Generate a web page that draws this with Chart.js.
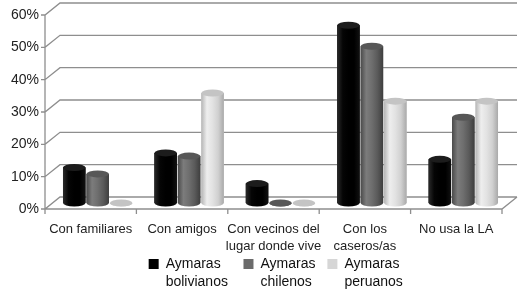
<!DOCTYPE html>
<html>
<head>
<meta charset="utf-8">
<script src="https://cdn.jsdelivr.net/npm/chart.js@4.4.0/dist/chart.umd.min.js"></script>
<style>
  html, body { margin: 0; padding: 0; background: #fff; }
</style>
</head>
<body>
<canvas id="usoChart" width="530" height="293"></canvas>
<script>
const categories = ['Con familiares', 'Con amigos', ['Con vecinos del', 'lugar donde vive'], ['Con los', 'caseros/as'], 'No usa la LA'];
const seriesNames = ['Aymaras bolivianos', 'Aymaras chilenos', 'Aymaras peruanos'];
const bolivianos = [11, 15.5, 6, 55, 13.5];
const chilenos = [9, 14.5, 0, 48.5, 26.5];
const peruanos = [0, 34, 0, 31.5, 31.5];
const yTicks = [0, 10, 20, 30, 40, 50, 60];

const baseColors = ['#000000', '#6b6b6b', '#d6d6d6'];
// cylinder shading, left -> right, and colour of the top ellipse
const shading = [
  { stops: ['#2a2a2a', '#050505', '#000000', '#000000', '#111111'], top: '#1c1c1c' },
  { stops: ['#4a4a4a', '#7c7c7c', '#6e6e6e', '#5a5a5a', '#3e3e3e'], top: '#575757' },
  { stops: ['#b5b5b5', '#eeeeee', '#e2e2e2', '#d0d0d0', '#a9a9a9'], top: '#c4c4c4' },
];

// 3d offsets of the front and back planes relative to the bar plane
const FX = -7, FY = 6, BX = 8, BY = -6;

const frame3d = {
  id: 'frame3d',
  afterLayout(chart) {
    // let the second legend line show and nudge the row to the right
    const lg = chart.legend;
    lg.top += 2;
    lg.bottom = chart.height;
    lg.left += 29;
    lg.right += 29;
  },
  beforeDatasetsDraw(chart) {
    const { ctx, chartArea: a, scales: { x, y } } = chart;
    ctx.save();
    ctx.strokeStyle = '#8e8e8e';
    ctx.lineWidth = 1.3;
    ctx.beginPath();
    yTicks.forEach(v => {
      const py = y.getPixelForValue(v);
      ctx.moveTo(a.left + FX - 4, py + FY);
      ctx.lineTo(a.left + FX, py + FY);
      ctx.lineTo(a.left + BX, py + BY);
      ctx.lineTo(a.right + BX, py + BY);
    });
    ctx.moveTo(a.left + FX, y.getPixelForValue(60) + FY);
    ctx.lineTo(a.left + FX, a.bottom + FY);
    ctx.lineTo(a.right + FX, a.bottom + FY);
    ctx.lineTo(a.right + BX, a.bottom + BY);
    const catW = (a.right - a.left) / categories.length;
    for (let i = 0; i <= categories.length; i++) {
      const px = a.left + FX + catW * i;
      ctx.moveTo(px, a.bottom + FY);
      ctx.lineTo(px, a.bottom + FY + 5);
    }
    ctx.stroke();
    ctx.restore();
  },
  afterDatasetsDraw(chart) {
    const { ctx } = chart;
    ctx.save();
    chart.data.datasets.forEach((ds, di) => {
      const meta = chart.getDatasetMeta(di);
      const sh = shading[di];
      meta.data.forEach(bar => {
        const { x, y, base, width } = bar.getProps(['x', 'y', 'base', 'width'], true);
        const l = x - width / 2, r = x + width / 2, rx = width / 2, ry = 3.5;
        const g = ctx.createLinearGradient(l, 0, r, 0);
        sh.stops.forEach((c, k) => g.addColorStop(k / (sh.stops.length - 1), c));
        ctx.fillStyle = g;
        ctx.beginPath();
        ctx.moveTo(l, y);
        ctx.lineTo(l, base);
        ctx.ellipse(x, base, rx, ry, 0, Math.PI, 0, true);
        ctx.lineTo(r, y);
        ctx.closePath();
        ctx.fill();
        ctx.beginPath();
        ctx.ellipse(x, y, rx, ry, 0, 0, Math.PI * 2);
        ctx.fillStyle = sh.top;
        ctx.fill();
      });
    });
    ctx.restore();
  }
};

// two-line legend text; width is measured from the longer line plus a gap
function legendText(label) {
  const lines = label.split(' ');
  const longest = lines.reduce((a, b) => (a.length >= b.length ? a : b));
  lines.toString = () => longest + '    ';
  return lines;
}

new Chart(document.getElementById('usoChart').getContext('2d'), {
  type: 'bar',
  data: {
    labels: categories,
    datasets: [
      { label: seriesNames[0], data: bolivianos, backgroundColor: baseColors[0] },
      { label: seriesNames[1], data: chilenos, backgroundColor: baseColors[1] },
      { label: seriesNames[2], data: peruanos, backgroundColor: baseColors[2] },
    ],
  },
  options: {
    responsive: false,
    animation: false,
    layout: { padding: { left: 0, right: 21, top: 9, bottom: 14 } },
    datasets: { bar: { categoryPercentage: 0.77, barPercentage: 0.96 } },
    scales: {
      x: {
        grid: { display: false, drawTicks: false },
        border: { display: false },
        ticks: {
          color: '#222',
          font: { family: 'Liberation Sans', size: 13, lineHeight: 1.38 },
          padding: 17,
          labelOffset: FX,
          maxRotation: 0,
          autoSkip: false,
        },
        afterFit(scale) { scale.height = 52; },
      },
      y: {
        min: 0,
        max: 60,
        grid: { display: false, drawTicks: false },
        border: { display: false },
        ticks: {
          stepSize: 10,
          color: '#222',
          font: { family: 'Liberation Sans', size: 14 },
          padding: 13,
          labelOffset: FY,
          callback: v => v + '%',
        },
        afterFit(scale) {
          scale.width = 52;
          scale.paddingTop = 0;
          scale.paddingBottom = 0;
        },
      },
    },
    plugins: {
      tooltip: { enabled: false },
      legend: {
        position: 'bottom',
        labels: {
          color: '#111',
          boxWidth: 10,
          boxHeight: 10,
          padding: 0,
          font: { family: 'Liberation Sans', size: 14, lineHeight: 1.3 },
          generateLabels(chart) {
            return chart.data.datasets.map((ds, i) => ({
              text: legendText(ds.label),
              fillStyle: baseColors[i],
              strokeStyle: baseColors[i],
              lineWidth: 0,
              hidden: false,
              datasetIndex: i,
              fontColor: '#111',
              textAlign: 'left',
            }));
          },
        },
      },
    },
  },
  plugins: [frame3d],
});
</script>
</body>
</html>
